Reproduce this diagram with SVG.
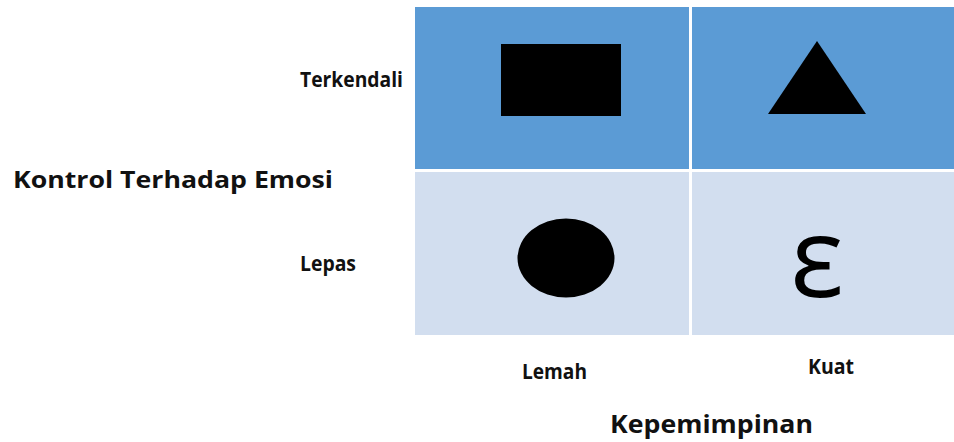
<svg xmlns="http://www.w3.org/2000/svg" width="954" height="442" viewBox="0 0 954 442">
<style>
.lbl{font-family:"Open Sans","Liberation Sans",sans-serif;font-weight:700;fill:#111;}
.top{fill:#5B9BD5;}
.bot{fill:#D2DEEF;}
.shape{fill:#000;}
</style>
<rect width="954" height="442" fill="#fff"/>
<g id="cell-terkendali-lemah"><rect class="top" x="415" y="7" width="275" height="163"/><rect class="shape" x="501" y="44" width="120" height="72"/></g>
<g id="cell-terkendali-kuat"><rect class="top" x="690" y="7" width="264" height="163"/><polygon class="shape" points="817,41 866,114 768,114"/></g>
<g id="cell-lepas-lemah"><rect class="bot" x="415" y="170" width="275" height="165"/><ellipse class="shape" cx="566" cy="258" rx="48.5" ry="39.5"/></g>
<g id="cell-lepas-kuat"><rect class="bot" x="690" y="170" width="264" height="165"/><text x="817" y="297" text-anchor="middle" font-family="Open Sans, Liberation Sans, sans-serif" font-size="112" fill="#000">ε</text></g>
<g id="dividers" stroke="#fff" stroke-width="3" fill="none">
<line x1="415" y1="170.5" x2="954" y2="170.5"/>
<line x1="690.5" y1="7" x2="690.5" y2="335"/>
</g>
<g id="labels">
<text class="lbl" x="300" y="87" font-size="21" textLength="103" lengthAdjust="spacingAndGlyphs">Terkendali</text>
<text class="lbl" x="300" y="271" font-size="21" textLength="56" lengthAdjust="spacingAndGlyphs">Lepas</text>
<text class="lbl" x="13" y="188" font-size="24" textLength="320" lengthAdjust="spacingAndGlyphs">Kontrol Terhadap Emosi</text>
<text class="lbl" x="522" y="379" font-size="21" textLength="65" lengthAdjust="spacingAndGlyphs">Lemah</text>
<text class="lbl" x="808" y="374" font-size="21" textLength="46" lengthAdjust="spacingAndGlyphs">Kuat</text>
<text class="lbl" x="610" y="433" font-size="25" textLength="203" lengthAdjust="spacingAndGlyphs">Kepemimpinan</text>
</g>
</svg>
